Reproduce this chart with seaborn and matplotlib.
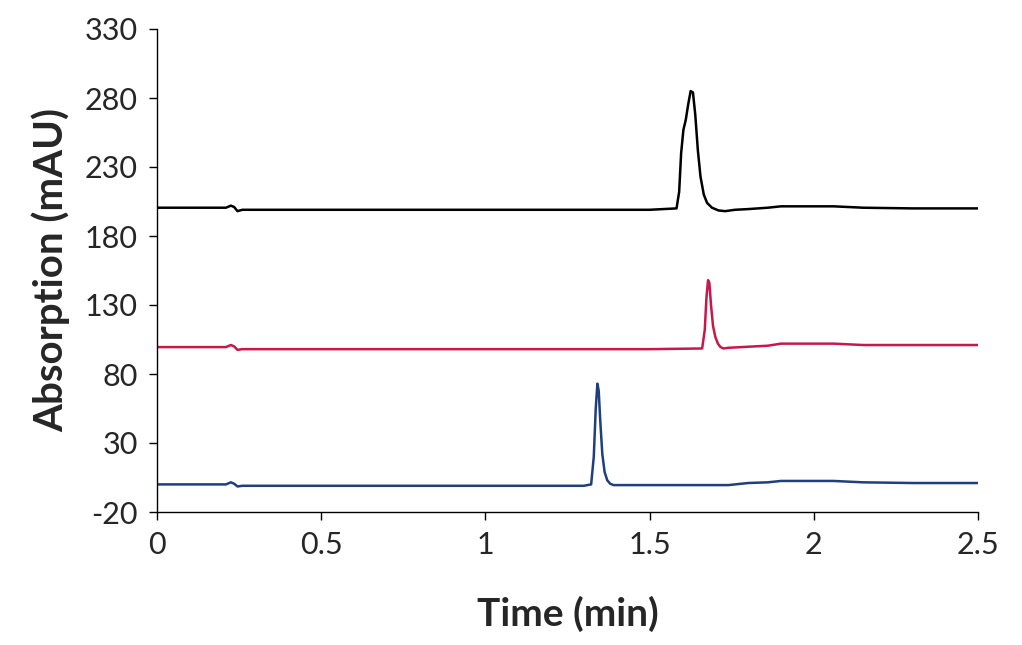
import matplotlib
matplotlib.use("Agg")
import matplotlib.pyplot as plt
import seaborn as sns
import pandas as pd

black_t = [0, 0.21, 0.225, 0.235, 0.245, 0.26, 0.5, 1.0, 1.5, 1.582, 1.59, 1.596, 1.603, 1.61, 1.618, 1.625, 1.632, 1.639, 1.647, 1.655, 1.665, 1.675, 1.69, 1.71, 1.73, 1.76, 1.8, 1.86, 1.9, 2.0, 2.06, 2.15, 2.3, 2.5]
black_v = [200.5, 200.5, 202, 201, 198, 199, 199, 199, 199, 200, 212, 240, 257, 264, 276, 285, 284, 268, 242, 223, 210, 204, 200.5, 198.5, 198, 199, 199.5, 200.5, 201.5, 201.5, 201.5, 200.5, 200, 200]

red_t = [0, 0.21, 0.225, 0.235, 0.245, 0.26, 0.5, 1.0, 1.5, 1.66, 1.668, 1.673, 1.678, 1.682, 1.687, 1.693, 1.7, 1.708, 1.716, 1.725, 1.74, 1.78, 1.86, 1.9, 2.0, 2.06, 2.15, 2.3, 2.5]
red_v = [99.5, 99.5, 101, 100, 97.5, 98, 98, 98, 98, 98.5, 112, 135, 148, 146, 130, 115, 107, 102, 99.5, 98.5, 99, 99.5, 100.5, 102, 102, 102, 101, 101, 101]

blue_t = [0, 0.21, 0.225, 0.235, 0.245, 0.26, 0.5, 1.0, 1.3, 1.322, 1.33, 1.336, 1.341, 1.345, 1.35, 1.356, 1.363, 1.371, 1.38, 1.39, 1.42, 1.6, 1.74, 1.8, 1.86, 1.9, 2.0, 2.06, 2.15, 2.3, 2.5]
blue_v = [0, 0, 1.5, 0.5, -1.5, -1, -1, -1, -1, 0, 20, 55, 73, 68, 45, 22, 9, 3, 0.5, -0.5, -0.5, -0.5, -0.5, 1, 1.5, 2.5, 2.5, 2.5, 1.5, 1, 1]

df = pd.concat([
    pd.DataFrame({"t": black_t, "v": black_v, "s": "A"}),
    pd.DataFrame({"t": red_t, "v": red_v, "s": "B"}),
    pd.DataFrame({"t": blue_t, "v": blue_v, "s": "C"}),
])

sns.set_style("white")
plt.rcParams['font.family'] = ['Lato', 'DejaVu Sans']
plt.rcParams['axes.unicode_minus'] = False
fig = plt.figure(figsize=(10.22, 6.45), dpi=100)
ax = fig.add_axes([157/1022, 1-512/645, (978-157)/1022, (512-29)/645])
sns.lineplot(data=df, x="t", y="v", hue="s", palette={"A": "#000000", "B": "#c8184a", "C": "#1f3f7f"},
             linewidth=1.8, legend=False, ax=ax, estimator=None, sort=False)
ax.set_xlim(0, 2.5)
ax.set_ylim(-20, 330)
ax.set_xticks([0, 0.5, 1, 1.5, 2, 2.5])
ax.set_xticklabels(["0", "0.5", "1", "1.5", "2", "2.5"])
ax.set_yticks(range(-20, 331, 50))
for s in ["top", "right"]:
    ax.spines[s].set_visible(False)
for s in ["left", "bottom"]:
    ax.spines[s].set_color("black")
    ax.spines[s].set_linewidth(1)
ax.tick_params(axis="both", direction="out", length=6, width=1, labelsize=22, color="black", pad=8,
               bottom=True, left=True)
ax.set_xlabel("Time (min)", fontsize=28, fontweight="bold", labelpad=26)
ax.set_ylabel("Absorption (mAU)", fontsize=29, fontweight="bold", labelpad=10)
fig.savefig("out.png", dpi=100)
